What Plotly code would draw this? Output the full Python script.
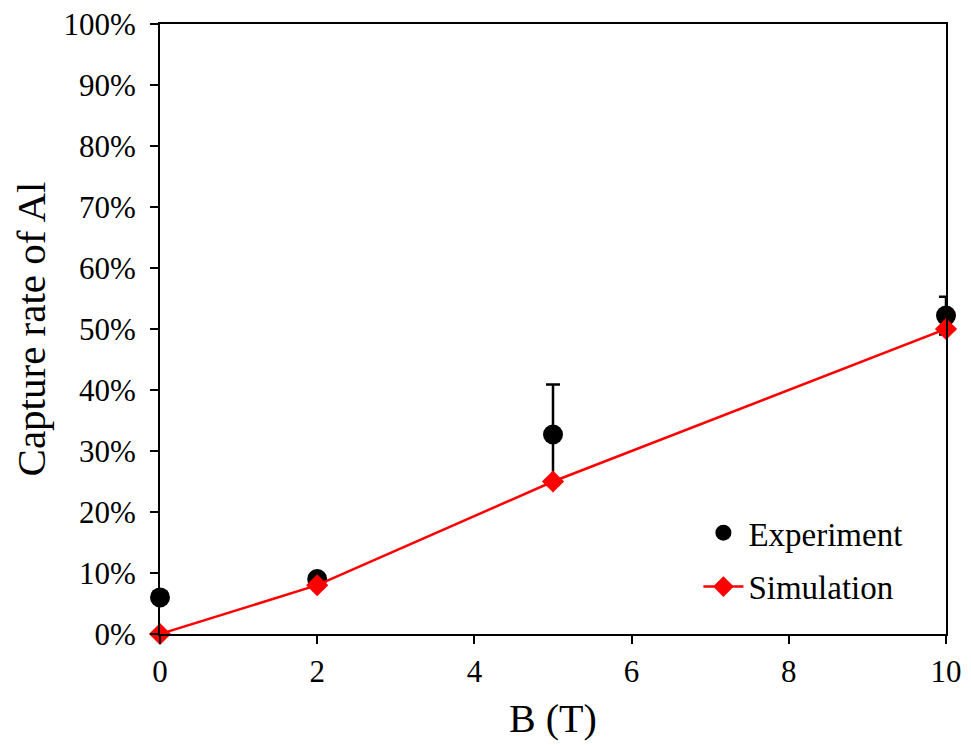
import plotly.graph_objects as go

b_field = [0, 2, 5, 10]
experiment = [0.060, 0.090, 0.327, 0.522]
experiment_err = [0.0, 0.0, 0.082, 0.031]
simulation = [0.0, 0.08, 0.25, 0.50]

font_family = "Liberation Serif, Times New Roman, serif"

fig = go.Figure()
fig.add_trace(go.Scatter(
    x=b_field, y=experiment, name="Experiment", mode="markers",
    marker=dict(symbol="circle", size=20, color="#000000"),
    error_y=dict(type="data", array=experiment_err, visible=True,
                 color="#000000", thickness=2.5, width=7),
    legendgroup="exp",
    cliponaxis=False,
))
fig.add_trace(go.Scatter(
    x=b_field, y=simulation, name="Simulation", mode="lines+markers",
    line=dict(color="#ff0000", width=2.5),
    marker=dict(symbol="diamond", size=17, color="#ff0000"),
    legendgroup="sim",
    cliponaxis=False,
))

fig.update_layout(
    width=955, height=733,
    margin=dict(l=152, r=17, t=16, b=107, autoexpand=False),
    paper_bgcolor="white", plot_bgcolor="white",
    font=dict(family=font_family, color="black", size=31),
    showlegend=True,
    legend=dict(x=0.685, y=0.212, xanchor="left", yanchor="top",
                font=dict(size=33, family=font_family),
                bgcolor="rgba(0,0,0,0)", traceorder="grouped",
                tracegroupgap=8, itemwidth=40),
    xaxis=dict(
        range=[0, 10], tickvals=[0, 2, 4, 6, 8, 10],
        showgrid=False, zeroline=False, automargin=False,
        showline=True, linecolor="black", linewidth=2, mirror=True,
        ticks="outside", ticklen=8, tickwidth=2, tickcolor="black",
        tickfont=dict(size=31, family=font_family),
        ticklabelstandoff=1, ticklabeloverflow="allow",
        title=dict(text="B (T)", font=dict(size=40, family=font_family), standoff=22),
    ),
    yaxis=dict(
        range=[0, 1], tickvals=[i / 10 for i in range(11)],
        tickformat=".0%",
        showgrid=False, zeroline=False, automargin=False,
        showline=True, linecolor="black", linewidth=2, mirror=True,
        ticks="outside", ticklen=8, tickwidth=2, tickcolor="black",
        tickfont=dict(size=31, family=font_family),
        ticklabelstandoff=8, ticklabeloverflow="allow",
        title=dict(text="Capture rate of Al", font=dict(size=41, family=font_family), standoff=18),
    ),
)

fig.write_html("out.html")
